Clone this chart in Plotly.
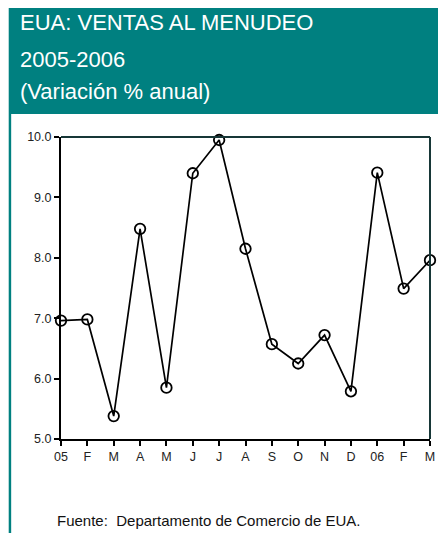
import plotly.graph_objects as go

months = ["05", "F", "M", "A", "M", "J", "J", "A", "S", "O", "N", "D", "06", "F", "M"]
values = [6.96, 6.98, 5.38, 8.48, 5.85, 9.40, 9.95, 8.15, 6.57, 6.25, 6.72, 5.79, 9.41, 7.49, 7.96]
y_ticks = [5, 6, 7, 8, 9, 10]
title_lines = ["EUA: VENTAS AL MENUDEO", "2005-2006", "(Variación % anual)"]
source = "Fuente:  Departamento de Comercio de EUA."

# the page adds an 8px body margin, so the figure is 8px smaller than the window
W, H = 438, 525
L, R, T, B = 53, 11, 129, 94
pw, ph = W - L - R, H - T - B

def px(x):
    return (x - L) / pw

def py(y):
    return (H - B - y) / ph

x_idx = list(range(len(months)))

fig = go.Figure()
fig.add_trace(go.Scatter(
    x=x_idx, y=values, mode="lines+markers",
    line=dict(color="black", width=1.7),
    marker=dict(symbol="circle-open", size=10.5, color="black", line=dict(width=1.8)),
    cliponaxis=False, showlegend=False, hoverinfo="skip",
))

teal = "#008080"
frame = "#173737"
shapes = [
    dict(type="rect", xref="paper", yref="paper", x0=px(0), x1=px(W + 1), y0=py(106), y1=py(-1),
         fillcolor=teal, line=dict(width=0), layer="below"),
    dict(type="rect", xref="paper", yref="paper", x0=px(0), x1=px(2.5), y0=py(H + 1), y1=py(106),
         fillcolor=teal, line=dict(width=0), layer="below"),
    dict(type="line", xref="paper", yref="paper", x0=0, x1=1, y0=1, y1=1,
         line=dict(color=frame, width=2)),
    dict(type="line", xref="paper", yref="paper", x0=1, x1=1, y0=0, y1=1,
         line=dict(color=frame, width=2)),
]

annotations = []
for t, yc in zip(title_lines, [14.5, 52, 83]):
    annotations.append(dict(text=t, xref="paper", yref="paper", x=px(9), y=py(yc),
                            xanchor="left", yanchor="middle", showarrow=False,
                            font=dict(family="Liberation Sans, Arial", size=22, color="white")))
annotations.append(dict(text=source, xref="paper", yref="paper", x=px(47), y=py(512),
                        xanchor="left", yanchor="middle", showarrow=False,
                        font=dict(family="Liberation Sans, Arial", size=15, color="#111111")))

tickfont = dict(family="Liberation Sans, Arial", size=12.5, color="#222222")
fig.update_layout(
    width=W, height=H,
    margin=dict(l=L, r=R, t=T, b=B, pad=0),
    paper_bgcolor="white", plot_bgcolor="white",
    shapes=shapes, annotations=annotations,
    xaxis=dict(range=[0, 14], tickvals=x_idx, ticktext=months, ticks="outside", ticklen=5,
               tickwidth=1.5, tickcolor="black", showline=True, linecolor="black", linewidth=2,
               showgrid=False, zeroline=False, fixedrange=True, tickfont=tickfont),
    yaxis=dict(range=[5, 10], tickvals=y_ticks, tickformat=".1f", ticks="outside", ticklen=5,
               tickwidth=1.5, tickcolor="black", showline=True, linecolor="black", linewidth=2,
               showgrid=False, zeroline=False, fixedrange=True, tickfont=tickfont),
)

fig.write_html("out.html")
